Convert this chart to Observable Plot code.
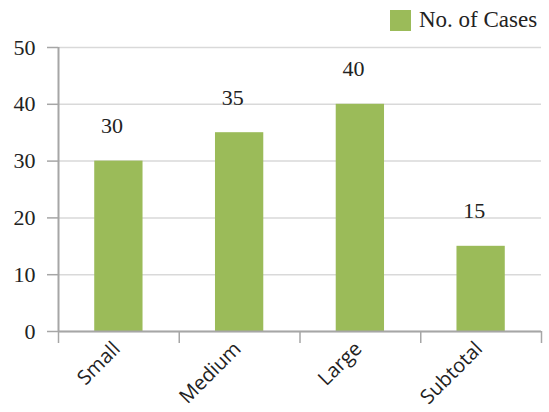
<!DOCTYPE html>
<html><head><meta charset="utf-8">
<script src="https://cdn.jsdelivr.net/npm/d3@7"></script>
<script src="https://cdn.jsdelivr.net/npm/@observablehq/plot@0.6"></script>
<style>
body{margin:0;background:#fff;}
#wrap{position:relative;width:549px;height:412px;}
#legend{position:absolute;left:390px;top:8px;display:flex;align-items:center;font-family:"Liberation Serif","Times New Roman",serif;font-size:23px;color:#222;line-height:24px;}
#legend .sw{width:21px;height:21px;background:#9bbb59;margin-right:8px;display:inline-block}
#wrap svg text.num{font-family:"Liberation Serif","Times New Roman",serif !important;font-size:22px !important;font-variant:normal !important;}
#wrap svg text.cat{font-family:"Open Sans",sans-serif !important;font-size:20px !important;}
</style></head><body>
<div id="wrap"><div id="legend"><span class="sw"></span><span id="lt"></span></div></div>
<script>
const categories = ["Small","Medium","Large","Subtotal"];
const cases = [30,35,40,15];
const yTicks = [0,10,20,30,40,50];
const seriesName = "No. of Cases";

const data = categories.map((c,i)=>({category:c, index:i, value:cases[i]}));
const axisColor = "#a6a6a6";
const barColor = "#9bbb59";
document.getElementById("lt").textContent = seriesName;

const chart = Plot.plot({
  width:549, height:412, marginLeft:58, marginRight:8, marginTop:47, marginBottom:81,
  x:{domain:[0,categories.length], axis:null},
  y:{domain:[0,50], axis:null},
  marks:[
    Plot.gridY(yTicks,{stroke:"#d9d9d9", strokeOpacity:1, strokeWidth:1.5}),
    Plot.rectY(data,{x1:d=>d.index+0.3, x2:d=>d.index+0.7, y:"value", fill:barColor}),
    Plot.axisY(yTicks,{tickSize:11, tickPadding:12, stroke:axisColor, strokeWidth:1.5, fontSize:22, fill:"#222", label:null}),
    Plot.axisX(d3.range(categories.length+1),{tickSize:12, tickFormat:()=>"", stroke:axisColor, strokeWidth:1.5, label:null}),
    Plot.ruleX([0],{stroke:axisColor, strokeWidth:2}),
    Plot.ruleY([0],{stroke:axisColor, strokeWidth:2}),
    Plot.text(data,{x:d=>d.index+0.5, y:"value", text:d=>String(d.value), dy:-35, dx:-7, fontSize:22, fill:"#222"}),
    Plot.text(data,{x:d=>d.index+0.5, y:0, text:"category", rotate:-45, textAnchor:"end", dy:14, dx:-2, fontSize:20, fill:"#222"})
  ]
});
d3.select(chart).selectAll("text").each(function(){
  const t = this.textContent;
  if (categories.includes(t)) this.classList.add("cat");
  else if (/^\d+$/.test(t)) this.classList.add("num");
});
document.getElementById("wrap").appendChild(chart);
</script>
</body></html>
